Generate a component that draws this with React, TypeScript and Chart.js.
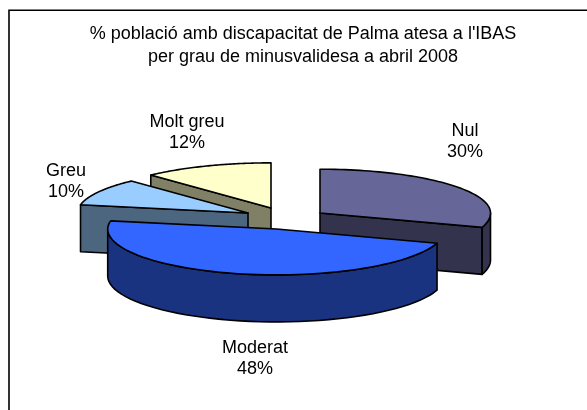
import React, { useEffect, useRef } from "react";
import { Chart, registerables } from "chart.js";

Chart.register(...registerables);

const categories = ["Nul", "Moderat", "Greu", "Molt greu"];
const percentages = [30, 48, 10, 12];
const titleLines = ["% població amb discapacitat de Palma atesa a l'IBAS", "per grau de minusvalidesa a abril 2008"];

const topColors = ["#666699", "#3366FF", "#99CCFF", "#FFFFCC"];
const sideColors = ["#33334D", "#1A3380", "#4D6680", "#808066"];
const sliceShift = [[17, -26.5], [-26.5, -10.5], [-55, -26.5], [-32, -31.5]];
const radiusScale = [1, 0.99, 1, 1.03];
const labelPos = [[465, 131], [255, 348], [66, 171], [187, 122]];
const drawOrder = [3, 2, 0, 1];
const FONT = '18px "Liberation Sans", Arial, sans-serif';
const FRONT = 0.272, BACK = 0.257, DEPTH = 47;

const pie3d = {
  id: "pie3d",
  beforeDraw(chart: any) {
    const c = chart.ctx;
    c.save();
    c.fillStyle = "#fff";
    c.fillRect(0, 0, chart.width, chart.height);
    c.strokeStyle = "#000";
    c.lineWidth = 1.6;
    c.beginPath();
    c.moveTo(9, chart.height);
    c.lineTo(9, 10.3);
    c.lineTo(chart.width, 10.3);
    c.stroke();
    c.restore();
  },
  beforeDatasetDraw(chart: any) {
    const c = chart.ctx;
    const arcs = chart.getDatasetMeta(0).data;
    c.save();
    c.lineJoin = "round";
    c.lineWidth = 1.6;
    c.strokeStyle = "#000";
    for (const i of drawOrder) {
      const a = arcs[i];
      const ax = a.x + sliceShift[i][0];
      const ay = a.y + sliceShift[i][1];
      const r = a.outerRadius * radiusScale[i];
      const px = (t: number) => ax + r * Math.cos(t);
      const py = (t: number) => ay + r * Math.sin(t) * (Math.sin(t) > 0 ? FRONT : BACK);
      const s = a.startAngle, e = a.endAngle;
      const face = (t: number) => {
        c.beginPath();
        c.moveTo(ax, ay);
        c.lineTo(px(t), py(t));
        c.lineTo(px(t), py(t) + DEPTH);
        c.lineTo(ax, ay + DEPTH);
        c.closePath();
        c.fillStyle = sideColors[i];
        c.fill();
        c.stroke();
      };
      // Radial cut faces that look towards the viewer.
      if (Math.cos(s) < -0.01) face(s);
      if (Math.cos(e) > 0.01) face(e);
      // Outer wall: the part of the rim in the front half.
      const w0 = Math.max(s, 0), w1 = Math.min(e, Math.PI);
      if (w1 > w0) {
        c.beginPath();
        const n = 48;
        for (let k = 0; k <= n; k++) {
          const t = w0 + ((w1 - w0) * k) / n;
          if (k === 0) c.moveTo(px(t), py(t));
          else c.lineTo(px(t), py(t));
        }
        for (let k = n; k >= 0; k--) {
          const t = w0 + ((w1 - w0) * k) / n;
          c.lineTo(px(t), py(t) + DEPTH);
        }
        c.closePath();
        c.fillStyle = sideColors[i];
        c.fill();
        c.stroke();
      }
      // Top face.
      c.beginPath();
      c.moveTo(ax, ay);
      const m = 64;
      for (let k = 0; k <= m; k++) {
        const t = s + ((e - s) * k) / m;
        c.lineTo(px(t), py(t));
      }
      c.closePath();
      c.fillStyle = topColors[i];
      c.fill();
      c.stroke();
    }
    c.restore();
    return false;
  },
  afterDraw(chart: any) {
    const c = chart.ctx;
    c.save();
    c.font = FONT;
    c.fillStyle = "#000";
    c.textAlign = "center";
    c.textBaseline = "middle";
    categories.forEach((name, i) => {
      c.fillText(name, labelPos[i][0], labelPos[i][1]);
      c.fillText(percentages[i] + "%", labelPos[i][0], labelPos[i][1] + 21.5);
    });
    c.restore();
  },
};

export default function App() {
  const ref = useRef<HTMLCanvasElement>(null);
  useEffect(() => {
    const chart = new Chart(ref.current!, {
      type: "pie",
      data: {
        labels: categories,
        datasets: [{ data: percentages, backgroundColor: topColors, borderWidth: 0 }],
      },
      options: {
        responsive: false,
        animation: false,
        layout: { padding: { left: 19, right: 0, top: 23, bottom: 0 } },
        plugins: {
          legend: { display: false },
          tooltip: { enabled: false },
          title: {
            display: true,
            text: titleLines,
            color: "#000",
            padding: 0,
            font: { family: '"Liberation Sans", Arial, sans-serif', size: 18, weight: "normal", lineHeight: 23 / 18 },
          },
        },
      },
      plugins: [pie3d],
    } as any);
    return () => chart.destroy();
  }, []);
  return <canvas ref={ref} width={587} height={410} style={{ position: "fixed", left: 0, top: 0, display: "block" }} />;
}
